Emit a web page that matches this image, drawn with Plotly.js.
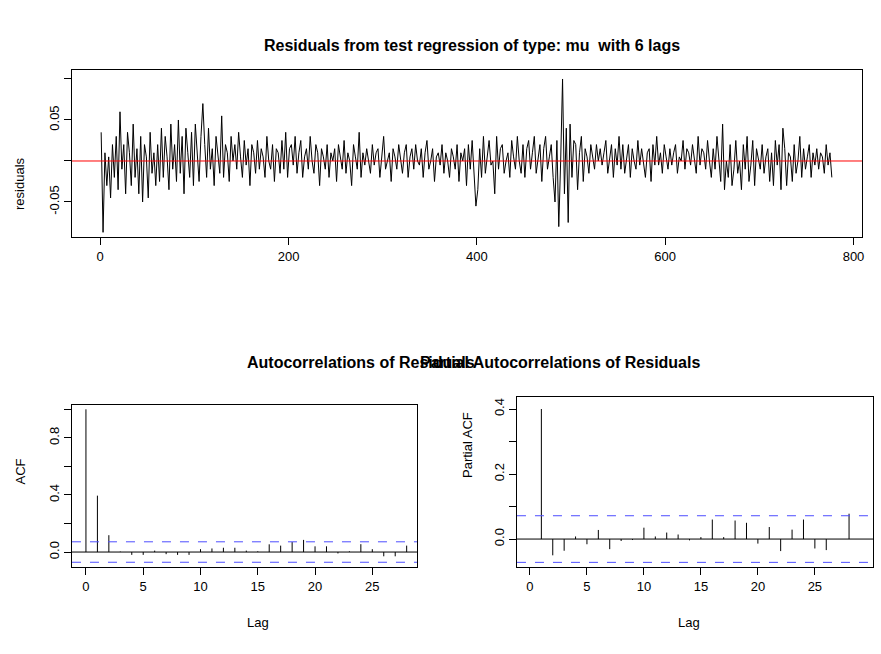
<!DOCTYPE html>
<html>
<head>
<meta charset="utf-8">
<script src="https://cdn.plot.ly/plotly-3.0.1.min.js"></script>
<style>body{margin:0;background:#fff}#plot{width:881px;height:654px}</style>
</head>
<body>
<div id="plot"></div>
<script>
const residuals = [
  0.035,-0.087,0.01,-0.03,0.005,-0.045,0.02,-0.02,0.03,-0.035,0.06,-0.01,0.02,-0.04,0.035,0.01,-0.03,0.045,-0.02,0.015,
  -0.04,0.03,-0.05,0.02,0.005,-0.045,0.035,-0.015,0.01,-0.03,0.02,-0.025,0.04,-0.02,0.03,0.005,-0.035,0.045,-0.01,0.02,
  -0.025,0.05,-0.015,0.03,-0.04,0.04,0.01,-0.02,0.035,-0.03,0.045,0.005,-0.025,0.03,0.07,0.02,-0.02,0.04,-0.01,0.015,
  -0.03,0.03,0.005,-0.015,0.055,-0.02,0.02,0.01,-0.025,0.03,0.0,0.02,-0.01,0.035,0.005,-0.02,0.025,-0.005,0.015,-0.03,
  0.02,0.01,-0.015,0.025,-0.01,0.015,0.005,-0.02,0.03,0.0,-0.01,0.02,-0.025,0.015,0.01,-0.015,0.025,-0.01,0.035,-0.02,
  0.015,0.02,-0.005,0.03,-0.015,0.01,0.025,-0.02,0.005,0.015,-0.01,0.03,0.0,-0.015,0.02,0.01,-0.03,0.015,0.005,-0.01,
  0.02,-0.02,0.01,0.0,0.015,-0.025,0.02,0.005,-0.01,0.025,-0.015,0.01,0.0,-0.03,0.02,0.005,-0.01,0.035,-0.02,0.01,
  -0.005,0.015,0.0,-0.015,0.02,-0.005,0.01,0.015,-0.02,0.005,0.03,-0.01,0.0,0.01,-0.025,0.015,0.005,-0.01,0.02,0.0,
  -0.015,0.01,0.02,-0.02,0.005,0.015,-0.01,0.02,0.0,-0.005,0.015,-0.02,0.01,0.025,-0.01,0.0,0.015,-0.025,0.005,0.01,
  -0.005,0.02,-0.015,0.01,0.0,-0.02,0.015,0.005,-0.01,0.02,-0.025,0.01,0.0,0.015,-0.03,0.02,-0.01,0.025,-0.02,-0.055,
  -0.035,0.015,-0.02,0.03,-0.015,0.01,0.025,-0.005,0.0,-0.04,0.03,-0.01,0.015,0.02,-0.015,0.0,0.01,-0.02,0.025,0.005,
  -0.01,0.03,0.0,-0.015,0.02,-0.02,0.015,0.025,-0.01,0.01,0.03,-0.015,0.0,0.02,-0.025,0.015,0.03,-0.01,0.005,0.02,
  -0.02,-0.05,0.025,-0.08,0.0,0.1,-0.04,0.04,-0.075,0.045,-0.02,0.025,0.02,-0.035,0.01,0.03,-0.025,0.015,0.005,-0.015,
  0.02,0.005,-0.01,0.02,0.0,0.015,-0.005,0.01,0.025,-0.015,0.0,0.02,-0.02,0.015,-0.005,0.03,-0.01,0.02,-0.015,0.005,
  0.02,-0.02,0.015,0.0,-0.01,0.025,-0.005,0.015,0.0,-0.02,0.01,0.015,-0.025,0.02,-0.005,0.03,-0.005,0.01,-0.015,0.02,
  0.005,-0.01,0.015,-0.005,0.01,0.02,-0.015,0.005,0.0,0.025,-0.01,0.015,0.01,-0.005,0.02,0.0,-0.015,0.03,-0.005,0.015,
  0.01,-0.01,0.025,0.0,-0.02,0.015,-0.01,0.03,0.005,-0.025,0.045,-0.035,0.0,-0.02,0.02,-0.03,-0.01,0.025,-0.015,0.0,
  -0.035,0.02,-0.01,0.03,-0.025,-0.005,0.025,-0.03,0.015,0.0,-0.01,0.02,-0.015,0.005,0.015,-0.025,0.01,-0.03,0.025,-0.005,
  0.02,-0.035,0.04,0.015,-0.03,0.01,0.005,-0.025,0.02,-0.015,0.0,0.03,-0.02,0.015,-0.01,0.005,0.02,-0.02,0.01,-0.005,
  0.015,-0.01,0.01,0.005,-0.015,0.02,-0.005,0.01,-0.02
];
const acfLags = [0,1,2,3,4,5,6,7,8,9,10,11,12,13,14,15,16,17,18,19,20,21,22,23,24,25,26,27,28];
const acfValues = [1,0.395,0.118,0.003,-0.02,-0.02,0.01,-0.015,-0.02,-0.02,0.02,0.025,0.03,0.03,0.01,0.005,0.054,0.045,0.07,0.085,0.04,0.04,-0.01,0.005,0.055,0.02,-0.03,-0.03,0.045];
const pacfLags = [1,2,3,4,5,6,7,8,9,10,11,12,13,14,15,16,17,18,19,20,21,22,23,24,25,26,27,28];
const pacfValues = [0.4,-0.05,-0.036,0.008,-0.016,0.028,-0.031,-0.006,-0.003,0.035,0.008,0.02,0.014,-0.004,0.006,0.06,0.006,0.057,0.05,-0.014,0.037,-0.037,0.029,0.06,-0.029,-0.034,0,0.078];
const ciBound = 2 / Math.sqrt(778);

const time = residuals.map((v, i) => 1 + 2 * i);

// vertical spikes via null-separated segments
function spikes(lags, vals) {
    const x = [], y = [];
    lags.forEach((l, i) => { x.push(l, l, null); y.push(0, vals[i], null); });
    return { x, y };
}
const acfS = spikes(acfLags, acfValues);
const pacfS = spikes(pacfLags, pacfValues);

const font = { family: 'Liberation Sans, Arial, sans-serif', size: 13, color: '#000' };
const axBase = {
    showgrid: false, zeroline: false, showline: true, mirror: true, linecolor: '#000', linewidth: 1,
    ticks: 'outside', ticklen: 7, tickcolor: '#000', tickfont: { size: 13 }, fixedrange: true
};

const data = [
    { x: time, y: residuals, type: 'scatter', mode: 'lines', line: { color: '#000', width: 1 }, xaxis: 'x', yaxis: 'y' },
    { x: acfS.x, y: acfS.y, type: 'scatter', mode: 'lines', line: { color: '#000', width: 1 }, xaxis: 'x2', yaxis: 'y2' },
    { x: pacfS.x, y: pacfS.y, type: 'scatter', mode: 'lines', line: { color: '#000', width: 1 }, xaxis: 'x3', yaxis: 'y3' }
];

function hline(xref, yref, y, color, dash) {
    return { type: 'line', xref: xref + ' domain', yref, x0: 0, x1: 1, y0: y, y1: y, line: { color, width: 1, dash: dash || 'solid' } };
}

const layout = {
    width: 881, height: 654, margin: { l: 0, r: 0, t: 0, b: 0 },
    paper_bgcolor: '#fff', plot_bgcolor: '#fff', showlegend: false, font,
    xaxis: { ...axBase, domain: [0.0817, 0.9784], range: [-30, 809], tickvals: [0, 200, 400, 600, 800], anchor: 'y' },
    yaxis: { ...axBase, domain: [0.6376, 0.893], range: [-0.0927, 0.111], tickvals: [-0.05, 0, 0.05, 0.1], ticktext: ['-0.05', '', '0.05', ''], tickangle: -90, anchor: 'x' },
    xaxis2: { ...axBase, domain: [0.0817, 0.4733], range: [-1.22, 28.9], tickvals: [0, 5, 10, 15, 20, 25], anchor: 'y2' },
    yaxis2: { ...axBase, domain: [0.133, 0.3807], range: [-0.105, 1.03], tickvals: [0, 0.2, 0.4, 0.6, 0.8, 1.0], ticktext: ['0.0', '', '0.4', '', '0.8', ''], tickangle: -90, anchor: 'x2' },
    xaxis3: { ...axBase, domain: [0.5868, 0.9909], range: [-1.14, 30.1], tickvals: [0, 5, 10, 15, 20, 25], anchor: 'y3' },
    yaxis3: { ...axBase, domain: [0.133, 0.393], range: [-0.086, 0.437], tickvals: [0, 0.1, 0.2, 0.3, 0.4], ticktext: ['0.0', '', '0.2', '', '0.4'], tickangle: -90, anchor: 'x3' },
    shapes: [
        hline('x', 'y', 0, '#ff0000'),
        hline('x2', 'y2', 0, '#000'),
        hline('x2', 'y2', ciBound, '#4d4dff', 'dash'),
        hline('x2', 'y2', -ciBound, '#4d4dff', 'dash'),
        hline('x3', 'y3', 0, '#000'),
        hline('x3', 'y3', ciBound, '#4d4dff', 'dash'),
        hline('x3', 'y3', -ciBound, '#4d4dff', 'dash')
    ],
    annotations: [
        { text: '<b>Residuals from test regression of type: mu  with 6 lags</b>', x: 472 / 881, y: 1 - 35 / 654, xref: 'paper', yref: 'paper', showarrow: false, font: { size: 16 } },
        { text: '<b>Autocorrelations of Residuals</b>', x: 245 / 881, y: 1 - 362 / 654, xref: 'paper', yref: 'paper', showarrow: false, font: { size: 16 } },
        { text: '<b>Partial Autocorrelations of Residuals</b>', x: 702 / 881, y: 1 - 362 / 654, xref: 'paper', yref: 'paper', showarrow: false, font: { size: 16 } },
        { text: 'residuals', x: 10 / 881, y: 1 - 155 / 654, xref: 'paper', yref: 'paper', showarrow: false, textangle: -90 },
        { text: 'ACF', x: 10 / 881, y: 1 - 487 / 654, xref: 'paper', yref: 'paper', showarrow: false, textangle: -90 },
        { text: 'Partial ACF', x: 467 / 881, y: 1 - 480 / 654, xref: 'paper', yref: 'paper', showarrow: false, textangle: -90 },
        { text: 'Lag', x: 245 / 881, y: 1 - 632 / 654, xref: 'paper', yref: 'paper', showarrow: false },
        { text: 'Lag', x: 702 / 881, y: 1 - 632 / 654, xref: 'paper', yref: 'paper', showarrow: false }
    ]
};

Plotly.newPlot('plot', data, layout, { staticPlot: true });
</script>
</body>
</html>
